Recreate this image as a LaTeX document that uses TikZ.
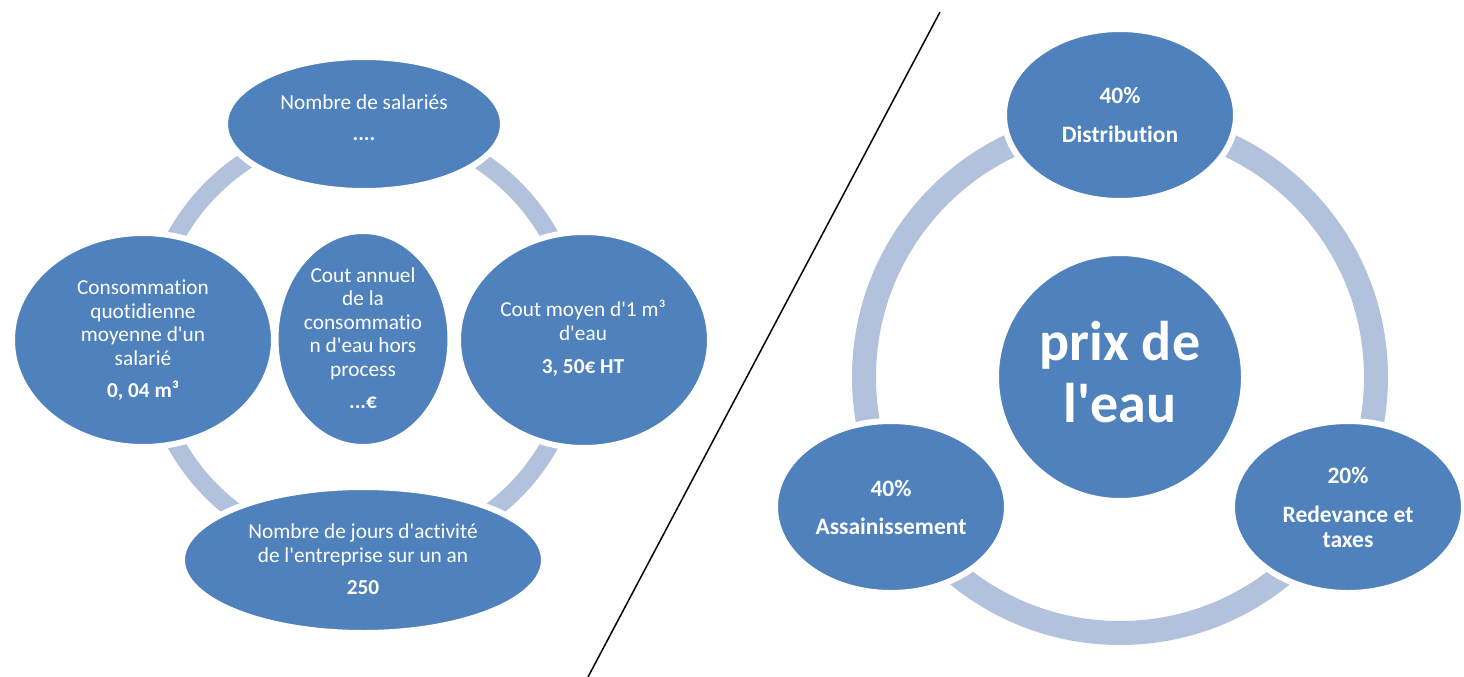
\documentclass[tikz,border=0pt]{standalone}
\usepackage{fontspec}
\setmainfont{Carlito}[Ligatures=TeXOff,RawFeature={-liga;-clig;-calt;-dlig}]
\usetikzlibrary{shapes.geometric}
\definecolor{nodeblue}{HTML}{4F81BD}
\definecolor{ringblue}{HTML}{B2C1DC}
\begin{document}
\begin{tikzpicture}[x=1pt,y=-1pt,
  bubble/.style={ellipse, fill=nodeblue, draw=white, line width=6pt, inner sep=0pt},
  disc/.style={circle, fill=nodeblue, draw=white, line width=6pt, inner sep=0pt},
  ringL/.style={draw=ringblue, line width=18pt},
  ringR/.style={draw=ringblue, line width=24pt},
  lbl/.style={text=white, align=center, inner sep=0pt, anchor=base, font=\fontsize{21.3}{23.6}\selectfont},
  lblb/.style={text=white, align=center, inner sep=0pt, anchor=base, font=\bfseries\fontsize{23.5}{25}\selectfont},
  big/.style={text=white, align=center, inner sep=0pt, anchor=base, font=\bfseries\fontsize{56}{62}\selectfont},
  divider/.style={draw=black, line width=1.5pt}]
\useasboundingbox (0,0) rectangle (1464,677);
% left cycle
\draw[ringL] (363,340) circle[radius=214];
\node[bubble, minimum width=278pt, minimum height=134pt] (salaries) at (364,124) {};
\node[bubble, minimum width=262pt, minimum height=214pt] (conso) at (143,340) {};
\node[bubble, minimum width=175pt, minimum height=216pt] (cout) at (363,339) {};
\node[bubble, minimum width=252pt, minimum height=216pt] (moyen) at (584,340) {};
\node[bubble, minimum width=362pt, minimum height=146pt] (jours) at (363,560) {};
\node[lbl] (tsalaries) at (364,140) {Nombre de salariés\\[7pt]\textbf{....}};
\node[lbl] (tconso) at (143,397) {Consommation\\quotidienne\\moyenne d'un\\salarié\\[8pt]\textbf{0, 04 m³}};
\node[lbl] (tcout) at (363,408) {Cout annuel\\de la\\consommatio\\n d'eau hors\\process\\[8pt]\textbf{...€}};
\node[lbl] (tmoyen) at (583,373) {Cout moyen d'1 m³\\d'eau\\[9pt]\textbf{3, 50€ HT}};
\node[lbl] (tjours) at (363,594) {Nombre de jours d'activité\\de l'entreprise sur un an\\[8pt]\textbf{250}};
% divider
\coordinate (dtop) at (940,12);
\coordinate (dbot) at (588,677);
\draw[divider] (dtop) -- (dbot);
% right cycle
\draw[ringR] (1120,377) circle[radius=256];
\node[bubble, minimum width=232pt, minimum height=172pt] (distrib) at (1120,115) {};
\node[bubble, minimum width=232pt, minimum height=172pt] (assain) at (891,507) {};
\node[bubble, minimum width=232pt, minimum height=172pt] (redev) at (1348,507) {};
\node[disc, minimum size=248pt] (prix) at (1120,377) {};
\node[lblb] (tdistrib) at (1120,142) {40\%\\[14pt]Distribution};
\node[lblb] (tassain) at (891,534) {40\%\\[13pt]Assainissement};
\node[lblb] (tredev) at (1348,547) {20\%\\[14pt]Redevance et\\taxes};
\node[big] (tprix) at (1120,422) {prix de\\l'eau};
\end{tikzpicture}
\end{document}
